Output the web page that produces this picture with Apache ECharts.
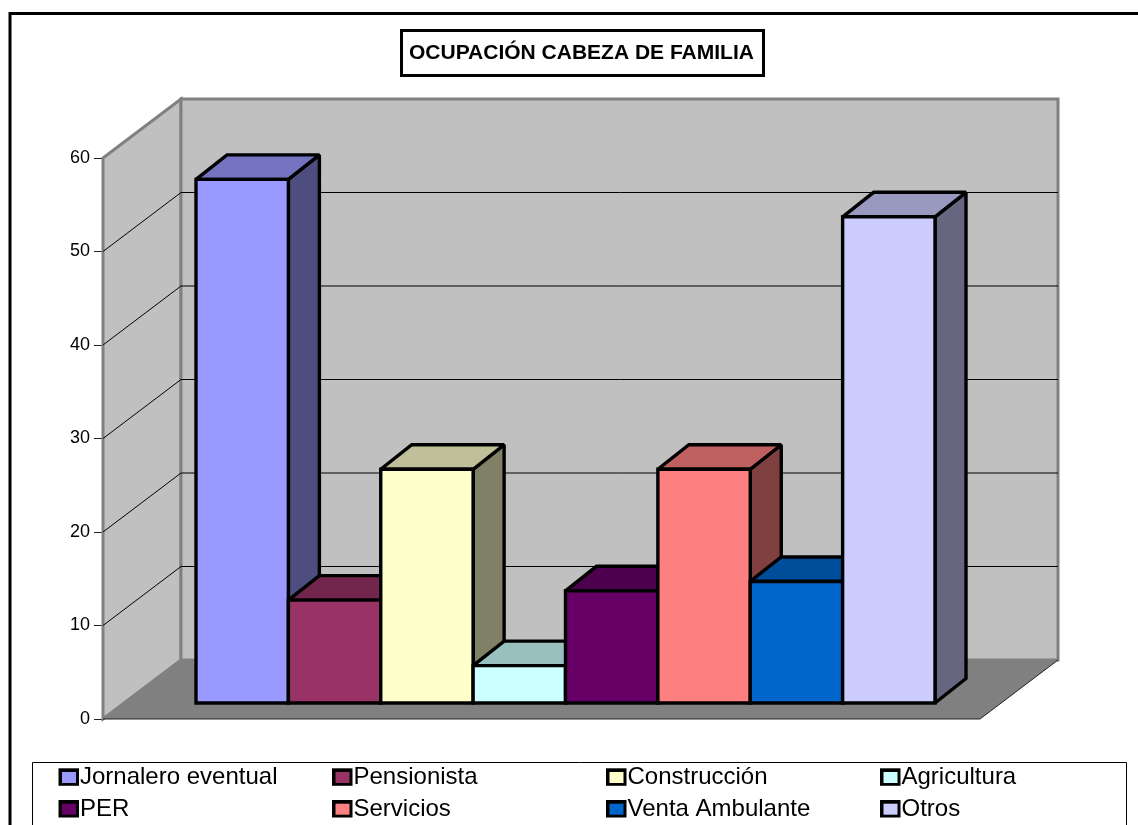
<!DOCTYPE html>
<html>
<head>
<meta charset="utf-8">
<title>Ocupación cabeza de familia</title>
<script src="https://cdn.jsdelivr.net/npm/echarts@6/dist/echarts.min.js"></script>
<style>
  html, body { margin: 0; padding: 0; background: #fff; overflow: hidden; }
  #main { width: 1138px; height: 825px; }
</style>
</head>
<body>
<div id="main"></div>
<script>
  const categories = ['Jornalero eventual', 'Pensionista', 'Construcción', 'Agricultura', 'PER', 'Servicios', 'Venta Ambulante', 'Otros']
  const values = [56, 11, 25, 4, 12, 25, 13, 52]
  const colors = ['#9999ff', '#993366', '#ffffcc', '#ccffff', '#660066', '#ff8080', '#0066cc', '#ccccff']
  const gridTicks = [10, 20, 30, 40, 50]

  // perspective offsets (px)
  const wallDx = 78, wallDy = -59
  const barDx = 31, barDy = -24.5
  const fontName = '"Liberation Sans", Arial, sans-serif'

  function shade(hex, k) {
    const n = parseInt(hex.slice(1), 16)
    const c = [n >> 16, (n >> 8) & 255, n & 255].map(v => Math.round(v * k))
    return 'rgb(' + c.join(',') + ')'
  }

  function renderWalls(params, api) {
    const tl = api.coord([0, 60]), bl = api.coord([0, 0]), br = api.coord([1, 0])
    const backTop = [tl[0] + wallDx, tl[1] + wallDy]
    const backBot = [bl[0] + wallDx, bl[1] + wallDy]
    const backRight = [br[0] + wallDx, br[1] + wallDy]
    const backTopRight = [backRight[0], backTop[1]]
    const wallStyle = { fill: '#c0c0c0', stroke: '#808080', lineWidth: 3, lineJoin: 'miter' }
    return {
      type: 'group',
      children: [
        { type: 'polygon', shape: { points: [tl, backTop, backBot, bl] }, style: wallStyle },
        { type: 'polygon', shape: { points: [backTop, backTopRight, backRight, backBot] }, style: wallStyle },
        { type: 'polygon', shape: { points: [bl, backBot, backRight, br] }, style: { fill: '#808080' } },
        { type: 'polyline', shape: { points: [bl, br, backRight] }, style: { fill: 'none', stroke: '#222', lineWidth: 1 } }
      ]
    }
  }

  function renderGridLine(params, api) {
    const v = api.value(0)
    const a = api.coord([0, v]), b = api.coord([1, v])
    return {
      type: 'polyline',
      shape: { points: [a, [a[0] + wallDx, a[1] + wallDy], [b[0] + wallDx, b[1] + wallDy]] },
      style: { fill: 'none', stroke: '#000', lineWidth: 1 }
    }
  }

  function renderBar(params, api) {
    const idx = api.value(0)
    const top = api.coord([idx, api.value(1)]), base = api.coord([idx, 0])
    const w = api.size([1, 0])[0]
    const x0 = top[0] - w / 2, x1 = top[0] + w / 2
    const color = api.style().fill
    // miterLimit: no spikes on the sharp corners of the side faces
    const line = { stroke: '#000', lineWidth: 3.4, lineJoin: 'miter', miterLimit: 1.5 }
    return {
      type: 'group',
      children: [
        { type: 'polygon', shape: { points: [[x1, top[1]], [x1 + barDx, top[1] + barDy], [x1 + barDx, base[1] + barDy], [x1, base[1]]] },
          style: Object.assign({ fill: shade(color, 0.5) }, line) },
        { type: 'polygon', shape: { points: [[x0, top[1]], [x0 + barDx, top[1] + barDy], [x1 + barDx, top[1] + barDy], [x1, top[1]]] },
          style: Object.assign({ fill: shade(color, 0.75) }, line) },
        { type: 'rect', shape: { x: x0, y: top[1], width: w, height: base[1] - top[1] },
          style: Object.assign({ fill: color }, line) }
      ]
    }
  }

  // legend icon frames: outer left edge per column, outer top edge per row
  const legendLeft = [58.5, 332, 606, 880]
  const legendTop = [768.3, 800]

  // the legend caps its icon border, so the thick frame is a black rect behind each icon
  const legendFrames = categories.map((name, i) => ({
    type: 'rect',
    z: -1,
    shape: { x: legendLeft[i % 4], y: legendTop[Math.floor(i / 4)], width: 20.5, height: 17.5 },
    style: { fill: '#000' }
  }))

  const option = {
    animation: false,
    backgroundColor: '#fff',
    title: {
      text: 'OCUPACIÓN CABEZA DE FAMILIA',
      left: 401,
      top: 30,
      padding: [13, 10, 12, 8],
      borderColor: '#000',
      borderWidth: 3,
      backgroundColor: '#fff',
      textStyle: { fontFamily: fontName, fontSize: 21, fontWeight: 'bold', color: '#000' }
    },
    legend: categories.map((name, i) => ({
      data: [name],
      left: legendLeft[i % 4] + 3.5,
      top: legendTop[Math.floor(i / 4)] - 2.8,
      padding: 0,
      selectedMode: false,
      icon: 'rect',
      itemWidth: 14,
      itemHeight: 11,
      itemStyle: { borderWidth: 0 },
      textStyle: { fontFamily: fontName, fontSize: 24, color: '#000', padding: [0, 0, 0, -1] }
    })),
    grid: [
      { left: 103, top: 158, width: 877, height: 561 },
      { left: 196, top: 142, width: 739, height: 561 }
    ],
    xAxis: [
      { gridIndex: 0, type: 'value', min: 0, max: 1, show: false },
      { gridIndex: 1, type: 'category', data: categories, show: false }
    ],
    yAxis: [
      {
        gridIndex: 0, type: 'value', min: 0, max: 60, interval: 10,
        axisLine: { show: true, lineStyle: { color: '#808080', width: 2 } },
        axisTick: { show: true, length: 9, lineStyle: { color: '#222', width: 1 } },
        axisLabel: { margin: 13, color: '#000', fontFamily: fontName, fontSize: 18 },
        splitLine: { show: false }
      },
      { gridIndex: 1, type: 'value', min: 0, max: 60, show: false }
    ],
    graphic: [
      // marco exterior y caja de la leyenda, cortados por el borde de la imagen
      { type: 'rect', z: -2, shape: { x: 10, y: 13.5, width: 1140, height: 830 }, style: { fill: 'none', stroke: '#000', lineWidth: 3 } },
      { type: 'rect', z: -2, shape: { x: 32.5, y: 762.5, width: 1094, height: 80 }, style: { fill: 'none', stroke: '#000', lineWidth: 1 } }
    ].concat(legendFrames),
    series: [
      { type: 'custom', name: 'walls', xAxisIndex: 0, yAxisIndex: 0, z: 1, silent: true, clip: false, renderItem: renderWalls, data: [[0, 60]] },
      { type: 'custom', name: 'gridLines', xAxisIndex: 0, yAxisIndex: 0, z: 2, silent: true, clip: false, renderItem: renderGridLine, data: gridTicks.map(v => [v]), encode: { y: 0 } }
    ].concat(categories.map((name, i) => ({
      type: 'custom',
      name: name,
      xAxisIndex: 1,
      yAxisIndex: 1,
      z: 3 + i,
      clip: false,
      itemStyle: { color: colors[i] },
      renderItem: renderBar,
      encode: { x: 0, y: 1 },
      data: [[i, values[i]]]
    })))
  }

  const myChart = echarts.init(document.getElementById('main'))
  myChart.setOption(option)
</script>
</body>
</html>
